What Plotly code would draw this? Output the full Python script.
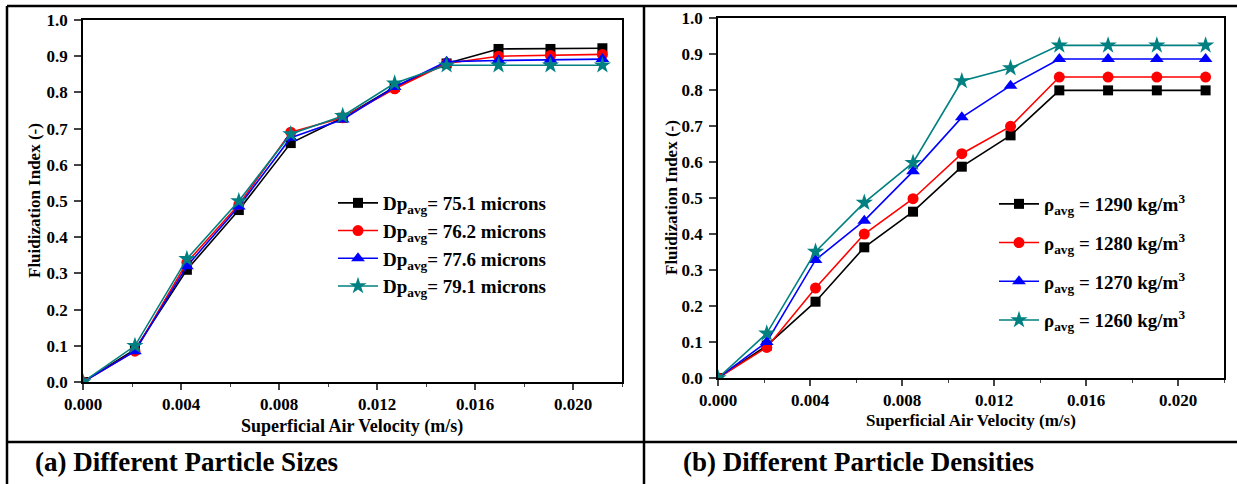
import plotly.graph_objects as go

W, H = 1237, 484

# ---- data ----
velocity = [0.0, 0.00212, 0.00424, 0.00636, 0.00848, 0.0106, 0.01272, 0.01484, 0.01696, 0.01908, 0.0212]

size_names = ["Dp<sub>avg</sub>= 75.1 microns", "Dp<sub>avg</sub>= 76.2 microns",
              "Dp<sub>avg</sub>= 77.6 microns", "Dp<sub>avg</sub>= 79.1 microns"]
size_75_1 = [0.0, 0.090, 0.310, 0.475, 0.660, 0.730, 0.815, 0.880, 0.920, 0.920, 0.922]
size_76_2 = [0.0, 0.085, 0.330, 0.490, 0.690, 0.730, 0.810, 0.880, 0.900, 0.902, 0.905]
size_77_6 = [0.0, 0.085, 0.320, 0.485, 0.675, 0.725, 0.815, 0.885, 0.888, 0.890, 0.892]
size_79_1 = [0.0, 0.100, 0.340, 0.500, 0.685, 0.735, 0.825, 0.875, 0.875, 0.875, 0.875]

dens_names = ["ρ<sub>avg</sub> = 1290 kg/m<sup>3</sup>", "ρ<sub>avg</sub> = 1280 kg/m<sup>3</sup>",
              "ρ<sub>avg</sub> = 1270 kg/m<sup>3</sup>", "ρ<sub>avg</sub> = 1260 kg/m<sup>3</sup>"]
dens_1290 = [0.0, 0.090, 0.212, 0.363, 0.462, 0.587, 0.674, 0.799, 0.799, 0.799, 0.799]
dens_1280 = [0.0, 0.085, 0.250, 0.400, 0.498, 0.623, 0.699, 0.836, 0.836, 0.836, 0.836]
dens_1270 = [0.0, 0.100, 0.328, 0.437, 0.574, 0.724, 0.812, 0.886, 0.886, 0.886, 0.886]
dens_1260 = [0.0, 0.124, 0.351, 0.487, 0.598, 0.825, 0.861, 0.924, 0.924, 0.924, 0.924]

x_title = "Superficial Air Velocity (m/s)"
y_title = "Fluidization Index (-)"
captions = ["(a) Different Particle Sizes", "(b) Different Particle Densities"]

colors = ["#000000", "#FF0000", "#0000FF", "#008080"]
symbols = ["square", "circle", "triangle-up", "star"]
msizes = [10, 11, 12, 13]

FONT = "Liberation Serif"

fig = go.Figure()

for i, (name, ys) in enumerate(zip(size_names, [size_75_1, size_76_2, size_77_6, size_79_1])):
    fig.add_trace(go.Scatter(x=velocity, y=ys, name=name, mode="lines+markers",
                             line=dict(color=colors[i], width=1.6),
                             marker=dict(symbol=symbols[i], size=msizes[i], color=colors[i]),
                             xaxis="x", yaxis="y", legend="legend", legendgroup="a%d" % i))
for i, (name, ys) in enumerate(zip(dens_names, [dens_1290, dens_1280, dens_1270, dens_1260])):
    fig.add_trace(go.Scatter(x=velocity, y=ys, name=name, mode="lines+markers",
                             line=dict(color=colors[i], width=1.6),
                             marker=dict(symbol=symbols[i], size=msizes[i], color=colors[i]),
                             xaxis="x2", yaxis="y2", legend="legend2", legendgroup="b%d" % i))


def tickfont():
    return dict(family=FONT, size=17, color="black", weight="bold")


def xaxis(dom, anchor):
    return dict(domain=dom, anchor=anchor, range=[0, 0.022], dtick=0.004, tick0=0,
                tickformat=".3f", ticks="outside", ticklen=6, tickwidth=1.5,
                ticklabelstandoff=0,
                minor=dict(dtick=0.002, ticks="outside", ticklen=3, tickwidth=1.2),
                showline=True, linewidth=1.6, linecolor="black", mirror=True,
                showgrid=False, zeroline=False, tickfont=tickfont())


def yaxis(dom, anchor):
    return dict(domain=dom, anchor=anchor, range=[0, 1.0], dtick=0.1, tick0=0,
                tickformat=".1f", ticks="outside", ticklen=7, tickwidth=1.5,
                ticklabelstandoff=3,
                showline=True, linewidth=1.6, linecolor="black", mirror=True,
                showgrid=False, zeroline=False, tickfont=tickfont())


fig.update_layout(
    width=W, height=H, margin=dict(l=0, r=0, t=0, b=0, autoexpand=False),
    font=dict(family=FONT, color="black"),
    paper_bgcolor="white", plot_bgcolor="white",
    xaxis=xaxis([83 / W, 622 / W], "y"),
    yaxis=yaxis([1 - 382 / H, 1 - 20 / H], "x"),
    xaxis2=xaxis([718 / W, 1224 / W], "y2"),
    yaxis2=yaxis([1 - 378 / H, 1 - 18 / H], "x2"),
    legend=dict(x=333 / W, y=1 - 184 / H, xanchor="left", yanchor="top",
                bgcolor="rgba(0,0,0,0)", itemwidth=40, tracegroupgap=0,
                font=dict(family=FONT, size=19, color="black", weight="bold")),
    legend2=dict(x=994 / W, y=1 - 185 / H, xanchor="left", yanchor="top",
                 bgcolor="rgba(0,0,0,0)", itemwidth=40, tracegroupgap=11,
                 font=dict(family=FONT, size=19, color="black", weight="bold")),
    showlegend=True,
)

fig.add_annotation(text=x_title, xref="paper", yref="paper", x=352 / W, y=1 - 426 / H,
                   showarrow=False, font=dict(family=FONT, size=18, color="black", weight="bold"),
                   xanchor="center", yanchor="middle")
fig.add_annotation(text=x_title, xref="paper", yref="paper", x=971 / W, y=1 - 420 / H,
                   showarrow=False, font=dict(family=FONT, size=17, color="black", weight="bold"),
                   xanchor="center", yanchor="middle")
for xp, yp in [(34, 201), (671, 198)]:
    fig.add_annotation(text=y_title, xref="paper", yref="paper", x=xp / W, y=1 - yp / H,
                       showarrow=False, font=dict(family=FONT, size=17, color="black", weight="bold"),
                       textangle=-90, xanchor="center", yanchor="middle")

cap_font = dict(family=FONT, size=27, color="black", weight="bold")
fig.add_annotation(text=captions[0], xref="paper", yref="paper", x=33 / W, y=1 - 462 / H,
                   showarrow=False, font=cap_font, xanchor="left", yanchor="middle")
fig.add_annotation(text=captions[1], xref="paper", yref="paper", x=681 / W, y=1 - 462 / H,
                   showarrow=False, font=cap_font, xanchor="left", yanchor="middle")

# table borders
lw = 2.5
for (x0, y0, x1, y1) in [(7, 6, W, 6), (7, 6, 7, H), (644, 6, 644, H), (7, 442, W, 442)]:
    fig.add_shape(type="line", xref="paper", yref="paper",
                  x0=x0 / W, x1=x1 / W, y0=1 - y0 / H, y1=1 - y1 / H,
                  line=dict(color="black", width=lw))

fig.write_html("out.html")
